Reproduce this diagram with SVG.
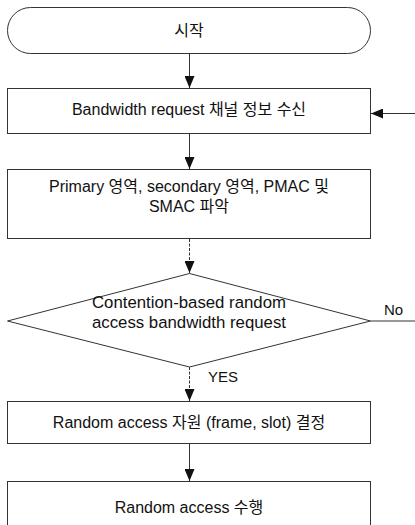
<svg xmlns="http://www.w3.org/2000/svg" width="415" height="525" viewBox="0 0 415 525">
<style>
.shape{fill:#fff;stroke:#333;stroke-width:1}
.t{font-family:"Liberation Sans","Noto Sans CJK KR",Arial,sans-serif;font-size:16px;fill:#111;text-anchor:middle}
.lbl{font-family:"Liberation Sans",Arial,sans-serif;font-size:15px;fill:#111}
.c{stroke:#333;stroke-width:1;fill:none}
.d{stroke-dasharray:3 1.5}
</style>
<defs>
<marker id="ah" viewBox="0 0 12 10" refX="12" refY="5" markerWidth="12" markerHeight="10" markerUnits="userSpaceOnUse" orient="auto">
<path d="M0,0 L12,5 L0,10 Z" fill="#111"/>
</marker>
</defs>
<rect width="415" height="525" fill="#fff"/>
<g id="start">
<rect class="shape" x="7.5" y="7.5" width="363" height="46" rx="23" ry="23"/>
<text class="t" x="189" y="36">시작</text>
</g>
<g id="recv">
<rect class="shape" x="7.5" y="88.5" width="363" height="45"/>
<text class="t" x="189" y="115">Bandwidth request 채널 정보 수신</text>
</g>
<g id="identify">
<rect class="shape" x="7.5" y="169.5" width="363" height="69"/>
<text class="t" x="189" y="192">Primary 영역, secondary 영역, PMAC 및</text>
<text class="t" x="189" y="212">SMAC 파악</text>
</g>
<g id="decision">
<polygon class="shape" points="189.5,273.5 370.5,321 189.5,367 7.5,321"/>
<text class="t" x="189" y="308" style="font-size:16.8px">Contention-based random</text>
<text class="t" x="189" y="328" style="font-size:16.8px">access bandwidth request</text>
</g>
<g id="resource">
<rect class="shape" x="7.5" y="401.5" width="363" height="42"/>
<text class="t" x="189" y="428">Random access 자원 (frame, slot) 결정</text>
</g>
<g id="perform">
<rect class="shape" x="7.5" y="481.5" width="363" height="60"/>
<text class="t" x="189" y="513">Random access 수행</text>
</g>
<g id="connectors">
<line class="c" x1="189.5" y1="54" x2="189.5" y2="88" marker-end="url(#ah)"/>
<line class="c" x1="415" y1="113.5" x2="371" y2="113.5" marker-end="url(#ah)"/>
<line class="c" x1="189.5" y1="134" x2="189.5" y2="169" marker-end="url(#ah)"/>
<line class="c d" x1="189.5" y1="239" x2="189.5" y2="273" marker-end="url(#ah)"/>
<line class="c" x1="370.5" y1="321" x2="415" y2="321"/>
<line class="c d" x1="189.5" y1="367" x2="189.5" y2="401" marker-end="url(#ah)"/>
<line class="c" x1="189.5" y1="444" x2="189.5" y2="481" marker-end="url(#ah)"/>
<text class="lbl" x="384" y="315">No</text>
<text class="lbl" x="208" y="382">YES</text>
</g>
</svg>
